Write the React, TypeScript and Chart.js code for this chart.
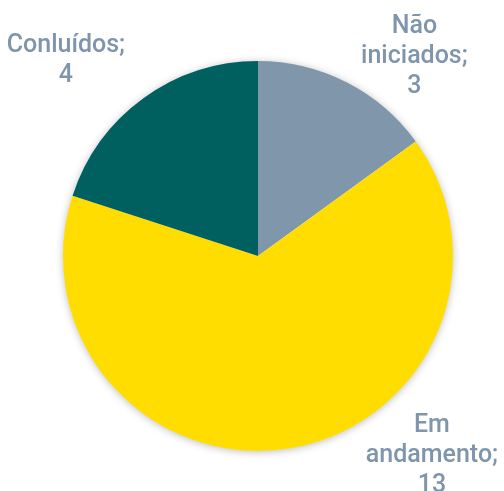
import React, { useEffect, useRef } from "react";
import { Chart, registerables } from "chart.js";

Chart.register(...registerables);

const categories = ["Não iniciados", "Em andamento", "Conluídos"];
const values = [3, 13, 4];
const colors = ["#7F96AB", "#FFDD00", "#00605F"];
const labelLines = [
  ["Não", "iniciados;", "3"],
  ["Em", "andamento;", "13"],
  ["Conluídos;", "4"],
];

// label anchor (x centre, first baseline) relative to pie centre, in radius units
const labelAnchors = [
  { dx: 0.802, dy: -1.144 },
  { dx: 0.892, dy: 0.903 },
  { dx: -0.985, dy: -1.046 },
];

const shadowPlugin = {
  id: "pieShadow",
  beforeDatasetsDraw(chart: any) {
    const meta = chart.getDatasetMeta(0);
    const arc = meta.data[0];
    if (!arc) return;
    const { x, y, outerRadius } = arc.getProps(["x", "y", "outerRadius"], true);
    const ctx = chart.ctx;
    ctx.save();
    ctx.shadowColor = "rgba(0,0,0,0.28)";
    ctx.shadowBlur = 9;
    ctx.shadowOffsetX = 0;
    ctx.shadowOffsetY = 1;
    ctx.beginPath();
    ctx.arc(x, y, outerRadius - 0.5, 0, Math.PI * 2);
    ctx.fillStyle = "#ffffff";
    ctx.fill();
    ctx.restore();
  },
};

const labelPlugin = {
  id: "outLabels",
  afterDatasetsDraw(chart: any) {
    const meta = chart.getDatasetMeta(0);
    const arc = meta.data[0];
    if (!arc) return;
    const { x, y, outerRadius } = arc.getProps(["x", "y", "outerRadius"], true);
    const ctx = chart.ctx;
    ctx.save();
    ctx.fillStyle = "#7F95AC";
    ctx.font = "500 25px Roboto, 'Liberation Sans', Arial, sans-serif";
    ctx.textAlign = "center";
    ctx.textBaseline = "alphabetic";
    labelLines.forEach((lines, i) => {
      const a = labelAnchors[i];
      const cx = x + a.dx * outerRadius;
      const cy = y + a.dy * outerRadius;
      lines.forEach((t, j) => {
        ctx.fillText(t, cx, cy + j * 30);
      });
    });
    ctx.restore();
  },
};

export default function App() {
  const ref = useRef<HTMLCanvasElement | null>(null);
  useEffect(() => {
    document.body.style.margin = "0";
    if (!ref.current) return;
    const chart = new Chart(ref.current, {
      type: "pie",
      data: {
        labels: categories,
        datasets: [
          {
            data: values,
            backgroundColor: colors,
            borderWidth: 0,
          },
        ],
      },
      options: {
        animation: false,
        responsive: false,
        layout: { padding: { left: 63, right: 51, top: 61, bottom: 40 } },
        plugins: {
          legend: { display: false },
          tooltip: { enabled: false },
        },
      },
      plugins: [shadowPlugin, labelPlugin],
    });
    return () => chart.destroy();
  }, []);
  return (
    <div style={{ width: 504, height: 491 }}>
      <canvas ref={ref} width={504} height={491} style={{ display: "block" }} />
    </div>
  );
}
